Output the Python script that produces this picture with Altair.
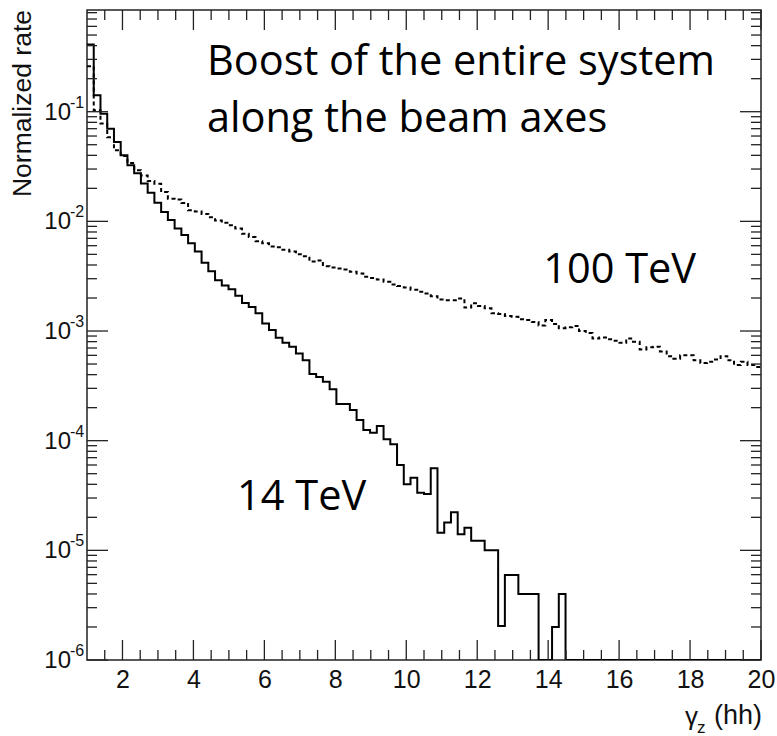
import altair as alt
import pandas as pd

# ---------------- data ----------------
X_MIN, X_MAX, N_BINS = 1.0, 20.0, 100
Y_MIN, Y_MAX = 1e-6, 0.846

rate_14tev = [
    0.41, 0.141, 0.096, 0.070, 0.053, 0.040, 0.0325, 0.0274, 0.0222, 0.0182,
    0.0148, 0.0122, 0.0103, 0.0086, 0.0075, 0.0063, 0.0053, 0.0042, 0.0035, 0.0029,
    0.0026, 0.0024, 0.0021, 0.0018, 0.00166, 0.00145, 0.00117, 0.00102, 0.00087, 0.00078,
    0.00072, 0.000625, 0.00054, 0.000405, 0.00038, 0.000345, 0.000294, 0.000216, 0.000216, 0.00019,
    0.000154, 0.000125, 0.000118, 0.000136, 0.000103, 0.000093, 0.00006, 0.00004, 0.000046, 0.0000335,
    0.0000326, 0.000056, 0.0000145, 0.0000179, 0.0000222, 0.000014, 0.0000161, 0.0000122, 0.0000122, 0.00001,
    0.00001, 0.00000204, 0.00000596, 0.00000596, 0.000004, 0.000004, 0.000004, 0, 0, 0.000002,
    0.000004, 0, 0, 0, 0, 0, 0, 0, 0, 0,
    0, 0, 0, 0, 0, 0, 0, 0, 0, 0,
    0, 0, 0, 0, 0, 0, 0, 0, 0, 0,
]

rate_100tev = [
    0.26, 0.103, 0.078, 0.0585, 0.0445, 0.0395, 0.034, 0.0293, 0.0262, 0.0233,
    0.022, 0.0185, 0.0161, 0.0158, 0.0147, 0.0126, 0.0123, 0.0117, 0.0109, 0.0102,
    0.0097, 0.0092, 0.0086, 0.0077, 0.0072, 0.0066, 0.0063, 0.0059, 0.0058, 0.0055,
    0.0053, 0.0050, 0.0048, 0.0043, 0.0044, 0.0039, 0.0038, 0.00372, 0.00364, 0.00347,
    0.00335, 0.00312, 0.00305, 0.00295, 0.00281, 0.00266, 0.00257, 0.0025, 0.00238, 0.00228,
    0.0022, 0.00208, 0.00194, 0.00191, 0.00191, 0.00198, 0.00164, 0.00179, 0.00169, 0.00161,
    0.00145, 0.00143, 0.00137, 0.00135, 0.00128, 0.00126, 0.00121, 0.00112, 0.00126, 0.00116,
    0.00106, 0.00108, 0.00111, 0.0010, 0.00096, 0.000855, 0.000875, 0.00084, 0.000815, 0.00078,
    0.000855, 0.0008, 0.00068, 0.00071, 0.00072, 0.00065, 0.00059, 0.00056, 0.0006, 0.0006,
    0.00054, 0.00051, 0.000525, 0.00055, 0.00059, 0.00054, 0.00049, 0.000525, 0.00049, 0.00047,
]

x_tick_labels = [2, 4, 6, 8, 10, 12, 14, 16, 18, 20]
y_exponents = [-6, -5, -4, -3, -2, -1]

note_text = ["Boost of the entire system", "along the beam axes", "100 TeV", "14 TeV"]
note_x = [4.38, 4.38, 13.86, 5.23]
note_y = [0.215, 0.065, 0.00274, 0.0000233]

# ---------------- build tables ----------------
bw = (X_MAX - X_MIN) / N_BINS
edges = [X_MIN + i * bw for i in range(N_BINS)] + [X_MAX]


def hist_df(vals):
    v = [max(a, Y_MIN) for a in vals]
    return pd.DataFrame({"x": edges, "y": v + [v[-1]]})


df14 = hist_df(rate_14tev)
df100 = hist_df(rate_100tev)

x_major = pd.DataFrame({"v": [float(t) for t in x_tick_labels]})
x_minor = pd.DataFrame({"v": [X_MIN + 0.5 * k for k in range(1, 38) if (X_MIN + 0.5 * k) % 2 != 0]})
y_major = pd.DataFrame({"v": [10.0 ** e for e in y_exponents]})
y_minor = pd.DataFrame({"v": [m * 10.0 ** e for e in range(-6, 0) for m in range(2, 10) if m * 10.0 ** e < Y_MAX]})
y_labels = pd.DataFrame({"v": [10.0 ** e for e in y_exponents], "base": ["10"] * len(y_exponents),
                         "exp": [str(e) for e in y_exponents]})
notes = pd.DataFrame({"x": note_x, "y": note_y, "t": note_text})

W, H = 674, 650
xs = alt.Scale(domain=[X_MIN, X_MAX], nice=False, zero=False)
ys = alt.Scale(type="log", domain=[Y_MIN, Y_MAX], nice=False)
TICK = "#222222"
LABEL_FONT = "Liberation Sans"

xaxis = alt.Axis(values=x_tick_labels, ticks=False, domain=False, grid=False, title=None,
                 labelFont=LABEL_FONT, labelFontSize=25, labelColor="#111111",
                 labelPadding=7, labelFlush=False, labelOverlap=False)

line14 = alt.Chart(df14).mark_line(interpolate="step-after", color="black", strokeWidth=2, clip=True).encode(
    x=alt.X("x:Q", scale=xs, axis=xaxis), y=alt.Y("y:Q", scale=ys, axis=None))
line100 = alt.Chart(df100).mark_line(interpolate="step-after", color="black", strokeWidth=2,
                                     strokeDash=[4, 3], clip=True).encode(
    x=alt.X("x:Q", scale=xs), y=alt.Y("y:Q", scale=ys, axis=None))


def xticks(df, length):
    bottom = alt.Chart(df).mark_rule(color=TICK, strokeWidth=1.3).encode(
        x=alt.X("v:Q", scale=xs), y=alt.value(H), y2=alt.value(H - length))
    top = alt.Chart(df).mark_rule(color=TICK, strokeWidth=1.3).encode(
        x=alt.X("v:Q", scale=xs), y=alt.value(0), y2=alt.value(length))
    return [bottom, top]


def yticks(df, length):
    left = alt.Chart(df).mark_rule(color=TICK, strokeWidth=1.3).encode(
        y=alt.Y("v:Q", scale=ys, axis=None), x=alt.value(0), x2=alt.value(length))
    right = alt.Chart(df).mark_rule(color=TICK, strokeWidth=1.3).encode(
        y=alt.Y("v:Q", scale=ys, axis=None), x=alt.value(W), x2=alt.value(W - length))
    return [left, right]


tick_layers = xticks(x_major, 20) + xticks(x_minor, 10) + yticks(y_major, 21) + yticks(y_minor, 10)

ylab_base = alt.Chart(y_labels).mark_text(align="right", baseline="middle", font=LABEL_FONT,
                                          fontSize=24, color="#111111", dy=1).encode(
    y=alt.Y("v:Q", scale=ys, axis=None), x=alt.value(-16), text="base:N")
ylab_exp = alt.Chart(y_labels).mark_text(align="left", baseline="middle", font=LABEL_FONT,
                                         fontSize=16, color="#111111", dy=-9).encode(
    y=alt.Y("v:Q", scale=ys, axis=None), x=alt.value(-17), text="exp:N")

note_layer = alt.Chart(notes).mark_text(align="left", baseline="alphabetic", font="Open Sans",
                                        fontSize=41.5, color="black").encode(
    x=alt.X("x:Q", scale=xs), y=alt.Y("y:Q", scale=ys, axis=None), text="t:N")

ytitle = alt.Chart(pd.DataFrame({"t": ["Normalized rate"]})).mark_text(
    align="right", baseline="middle", angle=270, font=LABEL_FONT, fontSize=26.5, color="#111111").encode(
    x=alt.value(-64), y=alt.value(0), text="t:N")
xt_gamma = alt.Chart(pd.DataFrame({"t": ["γ"]})).mark_text(
    align="right", baseline="alphabetic", font=LABEL_FONT, fontSize=26, color="#111111").encode(
    x=alt.value(611), y=alt.value(715), text="t:N")
xt_sub = alt.Chart(pd.DataFrame({"t": ["z"]})).mark_text(
    align="left", baseline="alphabetic", font=LABEL_FONT, fontSize=17, color="#111111").encode(
    x=alt.value(610), y=alt.value(723), text="t:N")
xt_hh = alt.Chart(pd.DataFrame({"t": ["(hh)"]})).mark_text(
    align="right", baseline="alphabetic", font=LABEL_FONT, fontSize=27, color="#111111").encode(
    x=alt.value(675), y=alt.value(714), text="t:N")

chart = alt.layer(
    line100, line14, *tick_layers, ylab_base, ylab_exp, note_layer, ytitle, xt_gamma, xt_sub, xt_hh
).properties(
    width=W, height=H,
    autosize=alt.AutoSizeParams(type="none"),
    padding={"left": 87, "top": 10, "right": 16, "bottom": 76},
    background="white",
).configure_view(stroke="#222222", strokeWidth=1.5)

chart.save("out.html", embed_options={"renderer": "svg", "actions": False})
